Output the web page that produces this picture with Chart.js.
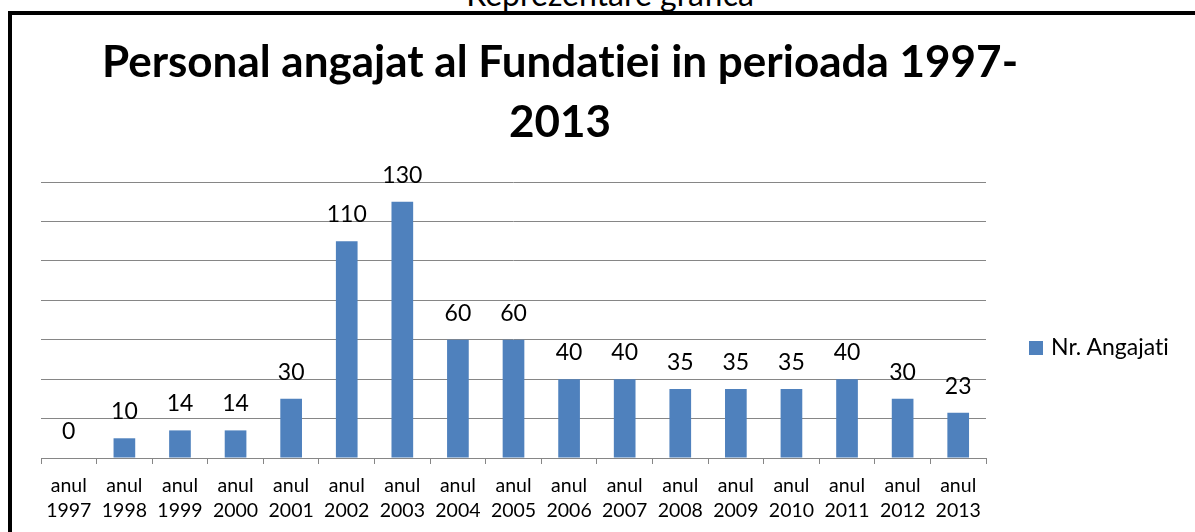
<!DOCTYPE html>
<html>
<head>
<meta charset="utf-8">
<title>Personal angajat al Fundatiei</title>
<script src="https://cdn.jsdelivr.net/npm/chart.js@4/dist/chart.umd.min.js"></script>
<style>
    html, body { margin: 0; padding: 0; background: #fff; overflow: hidden; }
    body { width: 1195px; height: 532px; position: relative; font-family: Lato, sans-serif;
           font-variant-ligatures: none; font-feature-settings: "liga" 0, "clig" 0; }
    #frame { position: absolute; left: 8px; top: 11px; width: 1400px; height: 700px; border: 4px solid #000; box-sizing: border-box; }
    #heading { position: absolute; left: 0; width: 1220px; top: -22px; text-align: center; font-size: 32px; line-height: 32px; color: #000; }
    #title { position: absolute; left: 0; width: 1120px; top: 30px; text-align: center; font-weight: bold; font-size: 44px; line-height: 60px; color: #000; }
    #chart { position: absolute; left: 0; top: 0; }
    #legend { position: absolute; left: 1029px; top: 335px; font-size: 23px; line-height: 22px; color: #000; white-space: nowrap; }
    #legend .box { position: absolute; left: 0; top: 6px; width: 14px; height: 14px; background: #4F81BD; }
    #legend .text { position: absolute; left: 22px; top: 0; }
</style>
</head>
<body>
<div id="heading">Reprezentare grafica</div>
<div id="frame"></div>
<canvas id="chart" width="1195" height="532"></canvas>
<div id="title">Personal angajat al Fundatiei in perioada 1997-<br>2013</div>
<div id="legend"><span class="box"></span><span class="text">Nr. Angajati</span></div>

<script>
// Data
const years = ['1997', '1998', '1999', '2000', '2001', '2002', '2003', '2004', '2005',
               '2006', '2007', '2008', '2009', '2010', '2011', '2012', '2013'];
const employees = [0, 10, 14, 14, 30, 110, 130, 60, 60, 40, 40, 35, 35, 35, 40, 30, 23];
const seriesName = 'Nr. Angajati';
const yMax = 140;
const yStep = 20;

const categories = years.map(y => ['anul', y]);

// value labels above each bar
const barLabels = {
    id: 'barLabels',
    afterDatasetsDraw(chart) {
        const ctx = chart.ctx;
        const meta = chart.getDatasetMeta(0);
        ctx.save();
        ctx.font = '23px Lato, sans-serif';
        ctx.fillStyle = '#000';
        ctx.textAlign = 'center';
        ctx.textBaseline = 'alphabetic';
        meta.data.forEach((bar, i) => {
            ctx.fillText(String(employees[i]), bar.x, bar.y - 19);
        });
        ctx.restore();
    }
};

new Chart(document.getElementById('chart'), {
    type: 'bar',
    data: {
        labels: categories,
        datasets: [{
            label: seriesName,
            data: employees,
            backgroundColor: '#4F81BD',
            categoryPercentage: 1,
            barPercentage: 0.39
        }]
    },
    options: {
        responsive: false,
        animation: false,
        layout: { padding: { left: 41, right: 209, top: 182, bottom: 0 } },
        plugins: {
            legend: { display: false },
            title: { display: false },
            tooltip: { enabled: false }
        },
        scales: {
            x: {
                grid: { drawOnChartArea: false, drawTicks: true, tickLength: 6, color: '#868686', offset: true },
                border: { display: true, color: '#868686' },
                ticks: {
                    color: '#000',
                    font: { family: 'Lato', size: 19.5, lineHeight: '25px' },
                    padding: 9,
                    maxRotation: 0,
                    autoSkip: false
                },
                afterFit: s => { s.height = 74; }
            },
            y: {
                min: 0,
                max: yMax,
                ticks: { display: false, stepSize: yStep },
                grid: { color: '#868686', drawTicks: false },
                border: { display: false },
                afterFit: s => { s.width = 0; }
            }
        }
    },
    plugins: [barLabels]
});
</script>
</body>
</html>
